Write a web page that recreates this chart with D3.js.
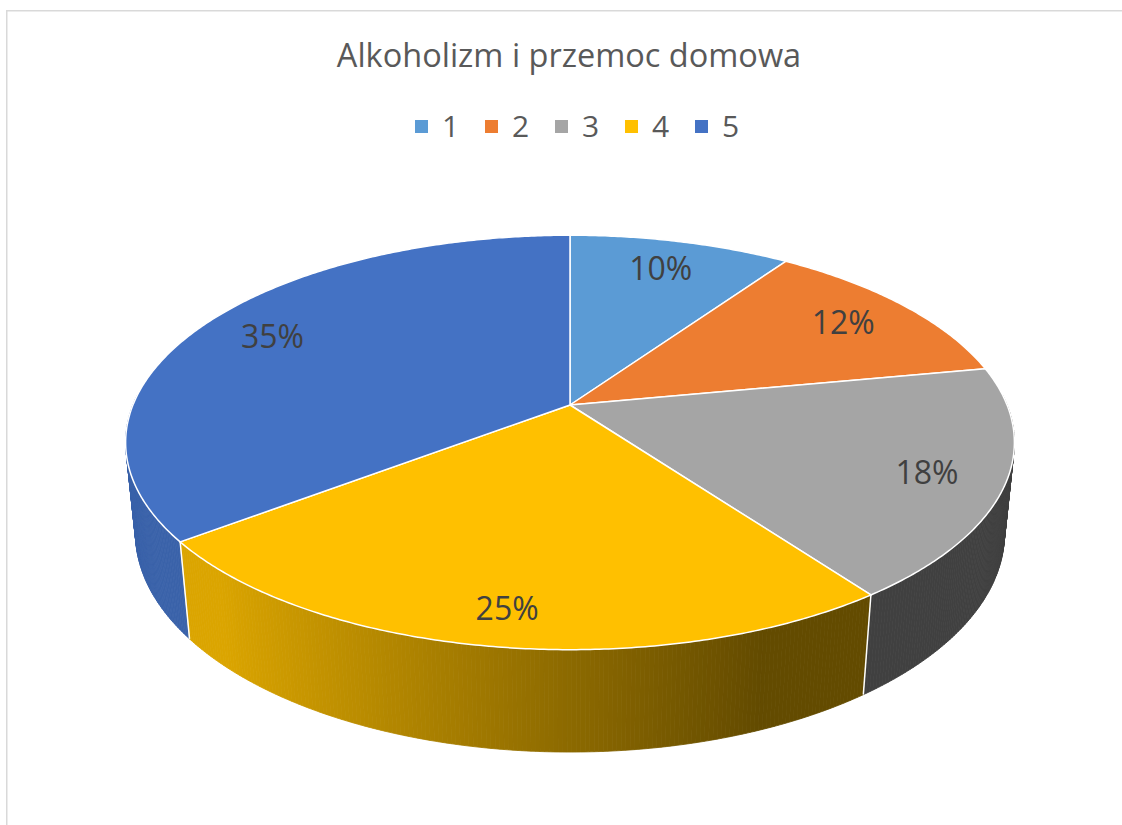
<!DOCTYPE html>
<html>
<head>
<meta charset="utf-8">
<title>Alkoholizm i przemoc domowa</title>
<script src="https://d3js.org/d3.v7.min.js"></script>
<style>
  body { margin: 0; background: #fff; }
  text { font-family: "Open Sans", "DejaVu Sans", sans-serif; }
</style>
</head>
<body>
<script>
// data (slice shares in %, labels show rounded values)
var categories = ["1", "2", "3", "4", "5"];
var values = [9.6, 12.4, 18.0, 24.6, 35.4];
var colors = ["#5B9BD5", "#ED7D31", "#A5A5A5", "#FFC000", "#4472C4"];
var title = "Alkoholizm i przemoc domowa";

var width = 1122, height = 825;

var svg = d3.select("body").append("svg")
    .attr("width", width)
    .attr("height", height);

// chart border (only top and left edges fall inside the picture)
svg.append("rect")
    .attr("x", 6.75).attr("y", 10.75)
    .attr("width", 1300).attr("height", 1000)
    .attr("fill", "none")
    .attr("stroke", "#D9D9D9")
    .attr("stroke-width", 1.5);

// title
svg.append("text")
    .attr("x", 569).attr("y", 67)
    .attr("text-anchor", "middle")
    .attr("font-size", 32.5)
    .attr("fill", "#595959")
    .text(title);

// legend
var legend = svg.append("g").selectAll("g")
    .data(categories)
    .enter().append("g")
    .attr("transform", function(d, i) { return "translate(" + (415 + i * 70) + ",0)"; });

legend.append("rect")
    .attr("x", 0).attr("y", 120)
    .attr("width", 13).attr("height", 13)
    .attr("fill", function(d, i) { return colors[i]; });

legend.append("text")
    .attr("x", 27).attr("y", 137)
    .attr("font-size", 30)
    .attr("fill", "#595959")
    .text(function(d) { return d; });

// ---- 3d pie: a perspective projection of a tilted disc ----
var cx = 570, cy = 405;         // screen point of the pie centre
var F = 2149, D = 4.917;        // focal length, camera distance (radius = 1)
var tilt = 27.3 * Math.PI / 180;
var sinT = Math.sin(tilt), cosT = Math.cos(tilt);
var depth = 0.2356;             // thickness of the disc

// theta: clockwise from the back (12 o'clock), r: radius, down: below the top face
function project(theta, r, down) {
  var x = r * Math.sin(theta), z = r * Math.cos(theta);
  var Y = z * sinT - down * cosT;
  var W = D + z * cosT + down * sinT;
  return [cx + F * x / W, cy - F * Y / W];
}

var pie = d3.pie().sort(null).value(function(d) { return d; });
var arcs = pie(values);
var step = Math.PI / 360;

function arcPoints(a0, a1, down) {
  var pts = [], n = Math.max(2, Math.ceil((a1 - a0) / step));
  for (var k = 0; k <= n; k++) pts.push(project(a0 + (a1 - a0) * k / n, 1, down));
  return pts;
}

// light comes from the left: wall gets darker to the right
function shade(hex, theta) {
  var f = Math.max(0.39, Math.min(0.86, 0.55 - 0.44 * Math.sin(theta)));
  var c = d3.rgb(hex);
  return d3.rgb(c.r * f, c.g * f, c.b * f).formatHex();
}

// side wall: small quads on the front half, far ones first
var quads = [];
arcs.forEach(function(a, i) {
  var n = Math.ceil((a.endAngle - a.startAngle) / step);
  for (var k = 0; k < n; k++) {
    var t0 = a.startAngle + (a.endAngle - a.startAngle) * k / n;
    var t1 = a.startAngle + (a.endAngle - a.startAngle) * (k + 1) / n;
    var tm = (t0 + t1) / 2;
    if (Math.cos(tm) > 0.05) continue;
    quads.push({
      pts: [project(t0, 1, 0), project(t1, 1, 0), project(t1, 1, depth), project(t0, 1, depth)],
      color: shade(colors[i], tm),
      w: D + Math.cos(tm) * cosT
    });
  }
});
quads.sort(function(p, q) { return q.w - p.w; });

var line = d3.line();

svg.append("g").selectAll("path")
    .data(quads)
    .enter().append("path")
    .attr("d", function(d) { return line(d.pts) + "Z"; })
    .attr("fill", function(d) { return d.color; })
    .attr("stroke", function(d) { return d.color; })
    .attr("stroke-width", 0.8);

// white seams between slices on the wall
svg.append("g").selectAll("line")
    .data(arcs.filter(function(a) { return Math.cos(a.startAngle) < -0.1; }))
    .enter().append("line")
    .each(function(a) {
      var p0 = project(a.startAngle, 1, 0), p1 = project(a.startAngle, 1, depth);
      d3.select(this).attr("x1", p0[0]).attr("y1", p0[1]).attr("x2", p1[0]).attr("y2", p1[1]);
    })
    .attr("stroke", "#fff")
    .attr("stroke-width", 1.5);

// top faces
svg.append("g").selectAll("path")
    .data(arcs)
    .enter().append("path")
    .attr("d", function(a) {
      return line([[cx, cy]].concat(arcPoints(a.startAngle, a.endAngle, 0))) + "Z";
    })
    .attr("fill", function(a, i) { return colors[i]; })
    .attr("stroke", "#fff")
    .attr("stroke-width", 1.5)
    .attr("stroke-linejoin", "round");

// data labels
var total = d3.sum(values);
var fmt = d3.format(".0%");
svg.append("g").selectAll("text")
    .data(arcs)
    .enter().append("text")
    .each(function(a) {
      var e = project((a.startAngle + a.endAngle) / 2, 1, 0);
      d3.select(this)
        .attr("x", cx + (e[0] - cx) * 0.82)
        .attr("y", cy + (e[1] - cy) * 0.84);
    })
    .attr("text-anchor", "middle")
    .attr("dominant-baseline", "central")
    .attr("font-size", 32)
    .attr("fill", "#404040")
    .text(function(a) { return fmt(a.value / total); });
</script>
</body>
</html>
